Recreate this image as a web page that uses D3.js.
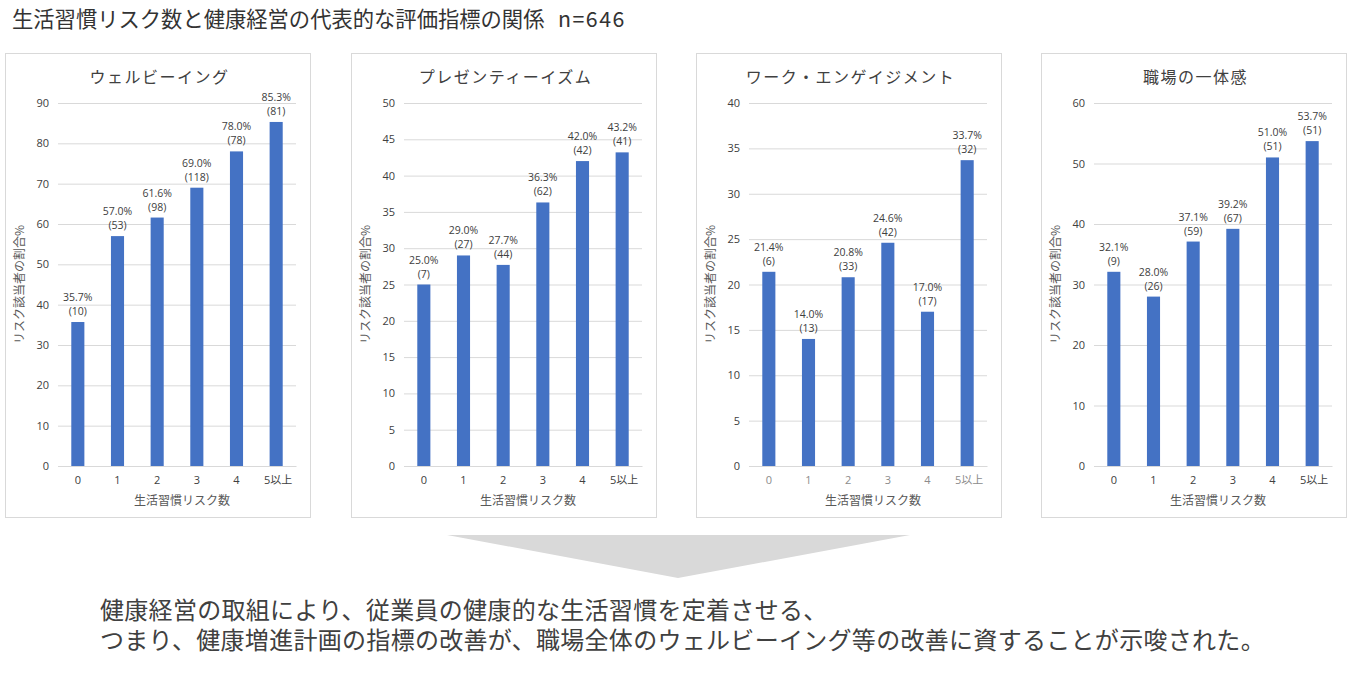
<!DOCTYPE html>
<html><head><meta charset="utf-8">
<script src="https://cdn.jsdelivr.net/npm/d3@7"></script>
<style>
body{margin:0;background:#fff;}
svg{display:block;font-family:"Noto Sans CJK JP","Noto Sans",sans-serif;}
</style></head>
<body>
<svg id="c" width="1347" height="678"></svg>
<script>
const categories = ["0","1","2","3","4","5以上"];
const panelTitles = ["ウェルビーイング","プレゼンティーイズム","ワーク・エンゲイジメント","職場の一体感"];
const wellbeingPct = [35.7,57.0,61.6,69.0,78.0,85.3];
const wellbeingN = [10,53,98,118,78,81];
const presenteeismPct = [25.0,29.0,27.7,36.3,42.0,43.2];
const presenteeismN = [7,27,44,62,42,41];
const engagementPct = [21.4,14.0,20.8,24.6,17.0,33.7];
const engagementN = [6,13,33,42,17,32];
const unityPct = [32.1,28.0,37.1,39.2,51.0,53.7];
const unityN = [9,26,59,67,51,51];
const yMaxes = [90,50,40,60];
const yTickSteps = [10,5,5,10];
const mainTitle = "生活習慣リスク数と健康経営の代表的な評価指標の関係";
const mainTitleN = "n=646";
const xAxisTitle = "生活習慣リスク数";
const yAxisTitle = "リスク該当者の割合%";
const conclusion = ["健康経営の取組により、従業員の健康的な生活習慣を定着させる、",
  "つまり、健康増進計画の指標の改善が、職場全体のウェルビーイング等の改善に資することが示唆された。"];

const pctSeries = [wellbeingPct,presenteeismPct,engagementPct,unityPct];
const nSeries = [wellbeingN,presenteeismN,engagementN,unityN];

const svg = d3.select("#c");
const tt = svg.append("text").attr("x",12).attr("y",27).attr("font-size",21.3).attr("fill","#333");
tt.append("tspan").text(mainTitle);
tt.append("tspan").attr("x",558).attr("letter-spacing",1.5).text(mainTitleN);

const panelX = [5,351,696,1041];
const panelW = 305, panelTop = 53, panelH = 464;
const plotL = 53, plotW = 238, plotTop = 103, plotBottom = 466;

panelX.forEach((px,i)=>{
  const g = svg.append("g").attr("transform",`translate(${px},0)`);
  g.append("rect").attr("x",0.5).attr("y",panelTop+0.5).attr("width",panelW).attr("height",panelH)
    .attr("fill","#fff").attr("stroke","#d9d9d9");
  g.append("text").attr("x",panelW/2+2).attr("y",83).attr("text-anchor","middle")
    .attr("font-size",16).attr("letter-spacing",1.5).attr("fill","#404040").text(panelTitles[i]);
  const x = d3.scaleBand().domain(categories).range([plotL,plotL+plotW]).paddingInner(0.67).paddingOuter(0.335);
  const y = d3.scaleLinear().domain([0,yMaxes[i]]).range([plotBottom,plotTop]);
  const ticks = d3.range(0,yMaxes[i]+0.001,yTickSteps[i]);
  const ya = g.append("g").attr("transform",`translate(${plotL},0)`)
    .call(d3.axisLeft(y).tickValues(ticks).tickSize(-plotW).tickPadding(9));
  ya.select(".domain").remove();
  ya.selectAll(".tick line").attr("stroke","#d9d9d9");
  ya.selectAll(".tick text").attr("font-size",11).attr("fill","#404040").attr("font-family","'Open Sans','Noto Sans',sans-serif");
  const xa = g.append("g").attr("transform",`translate(0,${plotBottom})`)
    .call(d3.axisBottom(x).tickSize(0).tickPadding(10));
  xa.select(".domain").attr("stroke","#d9d9d9");
  xa.selectAll(".tick text").attr("font-size",11).attr("fill", i===2 ? "#8c8c8c" : "#404040")
    .attr("font-family","'Open Sans','Noto Sans CJK JP',sans-serif")
    .attr("dx",(d)=> d==="5以上" ? 2 : 0);
  const data = categories.map((c,j)=>({c,v:pctSeries[i][j],n:nSeries[i][j]}));
  g.selectAll("rect.bar").data(data).enter().append("rect").attr("class","bar")
    .attr("x",d=>x(d.c)).attr("width",x.bandwidth())
    .attr("y",d=>y(d.v)).attr("height",d=>plotBottom-y(d.v)).attr("fill","#4472c4");
  const lab = g.selectAll("g.lab").data(data).enter().append("g").attr("class","lab")
    .attr("font-size",10.5).attr("fill","#404040").attr("text-anchor","middle")
    .attr("font-family","'Open Sans','Noto Sans',sans-serif");
  lab.append("text").attr("x",d=>x(d.c)+x.bandwidth()/2).attr("y",d=>y(d.v)-21).text(d=>d.v.toFixed(1)+"%");
  lab.append("text").attr("x",d=>x(d.c)+x.bandwidth()/2).attr("y",d=>y(d.v)-7).text(d=>"("+d.n+")");
  g.append("text").attr("x",plotL+plotW/2+5).attr("y",505).attr("text-anchor","middle")
    .attr("font-size",12).attr("fill","#595959").text(xAxisTitle);
  g.append("text").attr("transform",`translate(19,${(plotTop+plotBottom)/2}) rotate(-90)`)
    .attr("text-anchor","middle").attr("font-size",12).attr("fill","#595959").text(yAxisTitle);
});

svg.append("path").attr("d","M447,535 L910,535 L678,578 Z").attr("fill","#d9d9d9");
const concl = svg.append("text").attr("font-size",24).attr("letter-spacing",0.3).attr("fill","#404040");
conclusion.forEach((t,k)=>{
  concl.append("tspan").attr("x",100).attr("y",619+k*30).text(t);
});
</script>
</body></html>
